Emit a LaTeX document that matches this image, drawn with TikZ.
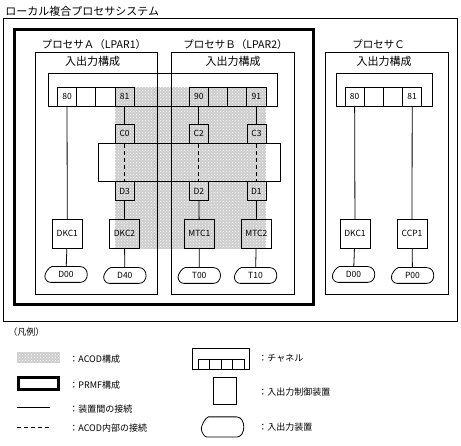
\documentclass[tikz,border=0pt]{standalone}
\usepackage{fontspec}
\setmainfont{Noto Sans CJK JP}
\usetikzlibrary{calc,patterns}
\tikzset{
    cell/.style = {
        draw,
        shape=rectangle,
        minimum width=19.2pt,
        minimum height=19pt,
        inner sep=0pt,
        font=\fontsize{8.5}{9}\selectfont
    },
    port/.style = {
        draw,
        shape=rectangle,
        minimum width=19pt,
        minimum height=19.3pt,
        inner sep=0pt,
        font=\fontsize{8.5}{9}\selectfont
    },
    ctrl/.style = {
        draw,
        shape=rectangle,
        minimum width=30pt,
        minimum height=29pt,
        inner sep=0pt,
        font=\fontsize{8.5}{9}\selectfont
    },
    iodev/.style = {
        shape=rectangle,
        minimum width=41.5pt,
        minimum height=15pt,
        inner sep=0pt,
        font=\fontsize{8.5}{9}\selectfont
    },
    jtext/.style = {
        inner sep=0pt,
        font=\fontsize{11}{13}\selectfont
    },
    lgtext/.style = {
        inner sep=0pt,
        anchor=west,
        font=\fontsize{9}{11}\selectfont
    },
    acod/.style = {
        fill=black!20,
        postaction={pattern=crosshatch dots, pattern color=white}
    },
    intern/.style = {
        draw,
        dash pattern=on 4pt off 3pt
    },
}

\begin{document}
\begin{tikzpicture}[x=1pt, y=-1pt, line width=0.8pt]
                \useasboundingbox (0,0) rectangle (461,446);

                % ACOD area (behind everything)
                \path[acod] (115,87) rectangle (266,249);

                \node[jtext, anchor=west] (title) at (5,11.5) {ローカル複合プロセサシステム};
                \path[draw] (3,18) rectangle (457,321);
                \path[draw, line width=3pt] (14.5,29.5) rectangle (313.5,304.5);

                % processors
                \path[draw] (35,52) rectangle (157,294);
                \path[draw] (171,52) rectangle (294.7,294);
                \path[draw] (325.7,52) rectangle (448.7,294);
                \node[jtext, font=\fontsize{10.5}{12}\selectfont] (pa) at (94,44.5) {プロセサＡ（LPAR1）};
                \node[jtext, font=\fontsize{10.5}{12}\selectfont] (pb) at (235.5,44.5) {プロセサＢ（LPAR2）};
                \node[jtext, font=\fontsize{10.5}{12}\selectfont] (pc) at (378.5,44.5) {プロセサＣ};
                \node[jtext] (ioa) at (92.5,61.5) {入出力構成};
                \node[jtext] (iob) at (233,61.5) {入出力構成};
                \node[jtext] (ioc) at (384,61.5) {入出力構成};

                % channels
                \path[draw] (48,73) rectangle (277,106);
                \path[draw] (336,73) rectangle (432.7,106);
                \node[cell] (a80) at (67,96.5) {80};
                \node[cell] (a1) at (86.2,96.5) {};
                \node[cell] (a2) at (105.4,96.5) {};
                \node[cell] (a81) at (124.6,96.5) {81};
                \node[cell] (b90) at (198.8,96.5) {90};
                \node[cell] (b1) at (218,96.5) {};
                \node[cell] (b2) at (237.2,96.5) {};
                \node[cell] (b91) at (256.4,96.5) {91};
                \node[cell] (c80) at (354.6,96.5) {80};
                \node[cell] (c1) at (373.8,96.5) {};
                \node[cell] (c2) at (393,96.5) {};
                \node[cell] (c81) at (412.2,96.5) {81};

                % ACOD
                \path[draw] (98.7,143.3) rectangle (280,181.7);
                \node[port] (pc0) at (124.6,133.7) {C0};
                \node[port] (pc2) at (198.8,133.7) {C2};
                \node[port] (pc3) at (256.4,133.7) {C3};
                \node[port] (pd3) at (124.6,191.2) {D3};
                \node[port] (pd2) at (198.8,191.2) {D2};
                \node[port] (pd1) at (256.4,191.2) {D1};

                % control units
                \node[ctrl] (dkca) at (67.3,233.8) {DKC1};
                \node[ctrl] (dkc2) at (124.5,233.8) {DKC2};
                \node[ctrl] (mtc1) at (199.3,233.8) {MTC1};
                \node[ctrl] (mtc2) at (256.4,233.8) {MTC2};
                \node[ctrl] (dkcc) at (355,233.8) {DKC1};
                \node[ctrl] (ccp1) at (412,233.8) {CCP1};

                % devices
                \node[iodev] (d00a) at (66,274.5) {D00};
                \node[iodev] (d40) at (124.8,275.5) {D40};
                \node[iodev] (t00) at (199.2,275.5) {T00};
                \node[iodev] (t10) at (255.5,275.5) {T10};
                \node[iodev] (d00c) at (353.5,274.5) {D00};
                \node[iodev] (p00) at (412.5,275.5) {P00};

                \path[draw] (a80) -- (dkca);
                \path[draw] (a81) -- (pc0);
                \path[intern] (pc0) -- (pd3);
                \path[draw] (pd3) -- (dkc2);
                \path[draw] (b90) -- (pc2);
                \path[intern] (pc2) -- (pd2);
                \path[draw] (pd2) -- (mtc1);
                \path[draw] (b91) -- (pc3);
                \path[intern] (pc3) -- (pd1);
                \path[draw] (pd1) -- (mtc2);
                \path[draw] (c80) -- (dkcc);
                \path[draw] (c81) -- (ccp1);
                \path[draw] (dkca) -- (d00a);
                \path[draw] (dkc2) -- (d40);
                \path[draw] (mtc1) -- (t00);
                \path[draw] (mtc2) -- (t10);
                \path[draw] (dkcc) -- (d00c);
                \path[draw] (ccp1) -- (p00);

                % legend
                \node[lgtext] (lgtitle) at (8,332.5) {（凡例）};
                \path[acod] (17,351.7) rectangle (60,363.3);
                \node[lgtext] (lgacod) at (69,359) {：ACOD構成};
                \path[draw, line width=3pt] (18.5,377.5) rectangle (58.5,389.2);
                \node[lgtext] (lgprmf) at (69,385) {：PRMF構成};
                \path[draw] (17,407.3) -- (50,407.3);
                \node[lgtext] (lgconn) at (69,409) {：装置間の接続};
                \path[intern] (17,427) -- (50,427);
                \node[lgtext] (lgint) at (69,428) {：ACOD内部の接続};

                \path[draw] (192.3,348.3) rectangle (249,369.3);
                \foreach \k in {0,...,3}
                    \path[draw] (198.3+11.5*\k,359.3) rectangle +(11.5,10);
                \node[lgtext] (lgch) at (258,358.5) {：チャネル};
                \node[draw, minimum width=22.7pt, minimum height=27pt] (lgctrl) at (224.6,390.8) {};
                \node[lgtext] (lgcu) at (258,392) {：入出力制御装置};
                \node[iodev, minimum height=19.4pt] (lgdev) at (222.5,427) {};
                \node[lgtext] (lgio) at (258,427) {：入出力装置};

                % device outlines
                \foreach \dev in {d00a,d40,t00,t10,d00c,p00,lgdev}
                    \path[draw] ($(\dev.north west)+(7,0)$) -- ($(\dev.north east)+(-7,0)$)
                    .. controls +(9.5,0) and +(9.5,0) .. ($(\dev.south east)+(-7,0)$)
                    -- ($(\dev.south west)+(6,0)$)
                    .. controls +(-3,0) and +(0,4) .. ($(\dev.west)+(0,1.5)$)
                    .. controls +(0,-3) and +(-3,0.5) .. ($(\dev.north west)+(7,0)$) -- cycle;
            \end{tikzpicture}
\end{document}
